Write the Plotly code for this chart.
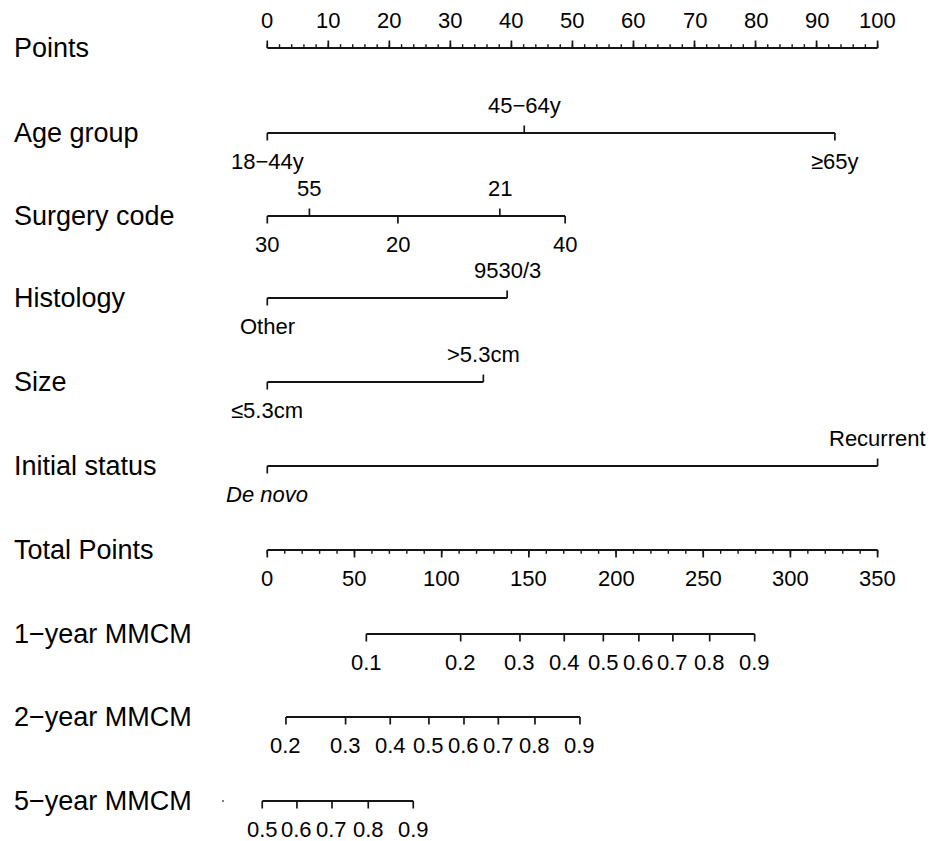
import plotly.graph_objects as go

# ---------------- data ----------------
row_labels = ["Points", "Age group", "Surgery code", "Histology", "Size",
              "Initial status", "Total Points", "1\u2212year MMCM",
              "2\u2212year MMCM", "5\u2212year MMCM"]

points_major = list(range(0, 101, 10))
points_minor = list(range(0, 101, 2))

age_levels = ["18\u221244y", "45\u221264y", "\u226565y"]
age_points = [0, 42.1, 93.0]
age_side = ["below", "above", "below"]

surgery_levels = ["30", "55", "20", "21", "40"]
surgery_points = [0, 6.9, 21.4, 38.1, 48.8]
surgery_side = ["below", "above", "below", "above", "below"]

histology_levels = ["Other", "9530/3"]
histology_points = [0, 39.3]
histology_side = ["below", "above"]

size_levels = ["\u22645.3cm", ">5.3cm"]
size_points = [0, 35.4]
size_side = ["below", "above"]

status_levels = ["<i>De novo</i>", "Recurrent"]
status_points = [0, 100]
status_side = ["below", "above"]

total_major = list(range(0, 351, 50))
total_minor = list(range(0, 351, 10))
total_max = 350

prob1_labels = ["0.1", "0.2", "0.3", "0.4", "0.5", "0.6", "0.7", "0.8", "0.9"]
prob1_total = [56.8, 110.9, 144.9, 170.3, 192.7, 213.1, 232.6, 253.7, 279.5]
prob2_labels = ["0.2", "0.3", "0.4", "0.5", "0.6", "0.7", "0.8", "0.9"]
prob2_total = [10.7, 44.9, 70.5, 92.7, 112.8, 132.5, 153.5, 179.3]
prob5_labels = ["0.5", "0.6", "0.7", "0.8", "0.9"]
prob5_total = [-2.9, 17.0, 37.1, 57.9, 83.7]

# ---------------- layout geometry (page pixels) ----------------
PAGE_W, PAGE_H = 935, 841
BODY = 8                      # default page margin around the figure
W, H = PAGE_W - BODY, PAGE_H - BODY
X0 = 267.3                    # page pixel of 0 points
PXU = 6.103                   # pixels per point
row_y = [48, 133, 216, 298, 382, 466, 550, 634, 717, 801]
LINE_C = "#151515"
FONT = "Liberation Sans, Arial, Helvetica, sans-serif"
TICK_FS = 22
LAB_FS = 27
MAJ, MIN_ = 7.5, 3.8
OFF = 28

fig = go.Figure()
annots = []


def px_to_pts(px):
    return (px - X0) / PXU


def seg_trace(xs_pairs, ys_pairs, width=2):
    xs, ys = [], []
    for (xa, xb), (ya, yb) in zip(xs_pairs, ys_pairs):
        xs += [xa, xb, None]
        ys += [ya, yb, None]
    fig.add_trace(go.Scatter(x=xs, y=ys, mode="lines",
                             line=dict(color=LINE_C, width=width),
                             hoverinfo="skip", showlegend=False))


def text(x, y, s, xanchor="center", size=TICK_FS):
    annots.append(dict(x=x, y=y, xref="x", yref="y", text=s, showarrow=False,
                       xanchor=xanchor, yanchor="middle",
                       font=dict(family=FONT, size=size, color="black")))


def scale_axis(y, major_vals, major_lbls, minor_vals, direction):
    seg_trace([(major_vals[0], major_vals[-1])], [(y, y)], width=2.2)
    seg_trace([(v, v) for v in minor_vals], [(y, y + direction * MIN_) for _ in minor_vals], width=1.4)
    seg_trace([(v, v) for v in major_vals], [(y, y + direction * MAJ) for _ in major_vals], width=1.7)
    for v, l in zip(major_vals, major_lbls):
        text(v, y + direction * OFF, l)


def cat_axis(y, pts, lbls, sides):
    seg_trace([(min(pts), max(pts))], [(y, y)], width=2.2)
    for p, l, s in zip(pts, lbls, sides):
        d = -1 if s == "above" else 1
        seg_trace([(p, p)], [(y, y + d * MAJ)], width=1.7)
        text(p, y + d * OFF, l)


def prob_axis(y, totals, lbls):
    pts = [t * 100 / total_max for t in totals]
    seg_trace([(pts[0], pts[-1])], [(y, y)], width=2.2)
    seg_trace([(p, p) for p in pts], [(y, y + MAJ) for _ in pts], width=1.7)
    for p, l in zip(pts, lbls):
        text(p, y + OFF, l)


# Row labels
for lab, y in zip(row_labels, row_y):
    text(px_to_pts(12), y, lab, xanchor="left", size=LAB_FS)

scale_axis(row_y[0], points_major, [str(v) for v in points_major], points_minor, -1)
cat_axis(row_y[1], age_points, age_levels, age_side)
cat_axis(row_y[2], surgery_points, surgery_levels, surgery_side)
cat_axis(row_y[3], histology_points, histology_levels, histology_side)
cat_axis(row_y[4], size_points, size_levels, size_side)
cat_axis(row_y[5], status_points, status_levels, status_side)
scale_axis(row_y[6], [v * 100 / total_max for v in total_major], [str(v) for v in total_major],
           [v * 100 / total_max for v in total_minor], 1)
prob_axis(row_y[7], prob1_total, prob1_labels)
prob_axis(row_y[8], prob2_total, prob2_labels)
prob_axis(row_y[9], prob5_total, prob5_labels)

# small stray dot present in the reference
fig.add_trace(go.Scatter(x=[px_to_pts(223)], y=[801], mode="markers",
                         marker=dict(size=2, color="#555"), hoverinfo="skip", showlegend=False))

fig.update_layout(
    width=W, height=H, margin=dict(l=0, r=0, t=0, b=0),
    paper_bgcolor="white", plot_bgcolor="white",
    xaxis=dict(range=[px_to_pts(BODY), px_to_pts(PAGE_W)], visible=False, fixedrange=True),
    yaxis=dict(range=[PAGE_H, BODY], visible=False, fixedrange=True),
    annotations=annots, showlegend=False,
)
fig.write_html("out.html")
